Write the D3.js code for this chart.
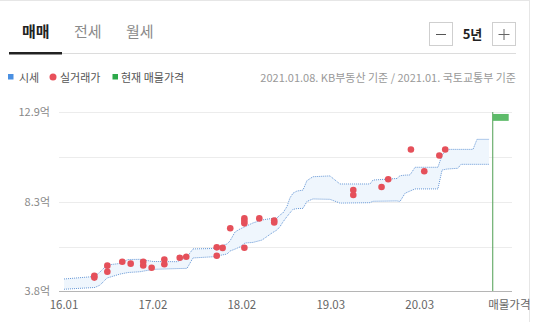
<!DOCTYPE html>
<html>
<head>
<meta charset="utf-8">
<script src="https://cdn.jsdelivr.net/npm/d3@7"></script>
<style>
  html, body { margin: 0; padding: 0; background: #fff; }
  svg { display: block; font-family: "Noto Sans CJK KR", "Noto Sans", sans-serif; }
</style>
</head>
<body>
<svg id="chart" width="535" height="322"></svg>
<script>
// Weekly price band (KB 시세): week index from 2016-01, upper / lower bound in 억
const bandWeeks = [0, 19.5, 22.7, 27.1, 35.3, 40.3, 47.9, 56.1, 71.2, 77.5, 81.2, 93.8, 102.7, 104.5, 107.7, 110.8, 114, 119, 124.7, 131, 134.1, 136, 137.9, 140.4, 142.3, 144.2, 146.7, 150.5, 153, 156.8, 167.5, 173.8, 192.7, 194.6, 209.7, 211.6, 214.8, 217.9, 221.1, 235.5, 238.1, 241.2, 248.1, 250, 257.6, 260.1, 267.7];
const bandUpper = [4.41, 4.54, 4.77, 5.12, 5.20, 5.40, 5.41, 5.30, 5.29, 5.53, 5.94, 5.96, 6.19, 6.34, 6.80, 6.95, 7.07, 7.26, 7.41, 7.49, 7.51, 7.66, 7.77, 8.09, 8.53, 8.77, 8.88, 8.93, 9.41, 9.61, 9.65, 9.24, 9.24, 9.44, 9.52, 9.66, 9.69, 9.70, 10.09, 10.09, 10.71, 11.00, 11.00, 11.00, 11.00, 11.51, 11.51];
const bandLower = [3.89, 3.98, 4.10, 4.46, 4.66, 4.74, 4.78, 4.90, 4.94, 4.95, 5.48, 5.54, 5.68, 5.83, 5.93, 6.04, 6.24, 6.27, 6.39, 6.75, 6.90, 7.07, 7.31, 7.58, 7.77, 7.95, 7.99, 8.00, 8.35, 8.48, 8.46, 8.27, 8.29, 8.36, 8.38, 8.35, 8.77, 8.88, 8.99, 8.99, 9.95, 10.00, 10.04, 10.24, 10.24, 10.24, 10.24];

// Actual transactions (실거래가): week index and price in 억
const dealWeeks = [19.1, 19.1, 27.3, 27.3, 36.7, 42.0, 49.9, 49.9, 55.2, 63.2, 63.2, 72.9, 77.0, 96.2, 96.2, 99.9, 104.7, 113.6, 113.6, 113.6, 113.6, 123.0, 132.4, 132.4, 182.2, 182.2, 200.0, 204.2, 218.5, 226.9, 236.4, 240.1];
const dealPrices = [4.57, 4.48, 5.09, 4.78, 5.29, 5.19, 5.29, 5.10, 4.98, 5.40, 5.16, 5.49, 5.54, 6.02, 5.59, 5.99, 6.99, 7.50, 7.37, 7.24, 6.00, 7.49, 7.38, 7.28, 8.93, 8.68, 9.09, 9.48, 10.99, 9.89, 10.69, 10.99];

// Current listing price range (현재 매물가격)
const listingWeek = 270;
const listingRange = [12.45, 12.8];

// Axis ticks
const xTickWeeks = [0, 56, 112, 168, 224];
const xTickLabels = ["16.01", "17.02", "18.02", "19.03", "20.03"];
const listingLabel = "매물가격";
const yTickValues = [3.8, 6.05, 8.3, 10.6, 12.9];
const yTickLabels = ["3.8억", "", "8.3억", "", "12.9억"];

const tabs = ["매매", "전세", "월세"];
const periodLabel = "5년";
const legendItems = ["시세", "실거래가", "현재 매물가격"];
const sourceNote = "2021.01.08. KB부동산 기준 / 2021.01. 국토교통부 기준";

const svg = d3.select("#chart");

// outer frame (top and right edges)
svg.append("line").attr("x1", 0).attr("x2", 530).attr("y1", 0.5).attr("y2", 0.5).attr("stroke", "#e6e6e6");
svg.append("line").attr("x1", 529.5).attr("x2", 529.5).attr("y1", 0).attr("y2", 322).attr("stroke", "#e6e6e6");

// tabs
const tabX = [22, 74, 126];
tabs.forEach((t, i) => {
  svg.append("text").attr("x", tabX[i]).attr("y", 37)
    .attr("font-size", 15).attr("font-weight", i === 0 ? 700 : 400)
    .attr("fill", i === 0 ? "#222" : "#8a8a8a").text(t);
});
svg.append("line").attr("x1", 62).attr("x2", 516).attr("y1", 53.5).attr("y2", 53.5).attr("stroke", "#dcdcdc");
svg.append("rect").attr("x", 9).attr("y", 52).attr("width", 53).attr("height", 2.5).attr("fill", "#222");

// period stepper
svg.append("rect").attr("x", 429.5).attr("y", 22.5).attr("width", 23).attr("height", 23).attr("fill", "#fff").attr("stroke", "#cfcfcf");
svg.append("line").attr("x1", 436).attr("x2", 446).attr("y1", 34.5).attr("y2", 34.5).attr("stroke", "#555");
svg.append("text").attr("x", 472.5).attr("y", 39).attr("text-anchor", "middle").attr("font-size", 13).attr("font-weight", 700).attr("fill", "#222").text(periodLabel);
svg.append("rect").attr("x", 492.5).attr("y", 22.5).attr("width", 23).attr("height", 23).attr("fill", "#fff").attr("stroke", "#cfcfcf");
svg.append("line").attr("x1", 498.5).attr("x2", 509.5).attr("y1", 34.5).attr("y2", 34.5).attr("stroke", "#666");
svg.append("line").attr("x1", 504).attr("x2", 504).attr("y1", 29).attr("y2", 40).attr("stroke", "#666");

// legend
svg.append("rect").attr("x", 8).attr("y", 74).attr("width", 5.5).attr("height", 5.5).attr("fill", "#4a90e2");
svg.append("text").attr("x", 19).attr("y", 81.5).attr("font-size", 11).attr("fill", "#555").text(legendItems[0]);
svg.append("circle").attr("cx", 53).attr("cy", 77).attr("r", 3.5).attr("fill", "#e8505b");
svg.append("text").attr("x", 60).attr("y", 81.5).attr("font-size", 11).attr("fill", "#555").text(legendItems[1]);
svg.append("rect").attr("x", 112.5).attr("y", 74).attr("width", 5.5).attr("height", 5.5).attr("fill", "#2ca94a");
svg.append("text").attr("x", 121).attr("y", 81.5).attr("font-size", 11).attr("fill", "#555").text(legendItems[2]);
svg.append("text").attr("x", 516).attr("y", 81.5).attr("text-anchor", "end").attr("font-size", 11).attr("fill", "#999").text(sourceNote);

// scales
const x = d3.scaleLinear().domain([0, 270]).range([64, 492.7]);
const y = d3.scaleLinear().domain([3.8, 12.9]).range([291, 112]);
const plotLeft = 59, plotRight = 512;

// gridlines + y labels
const yAxis = svg.append("g");
yTickValues.forEach((v, i) => {
  yAxis.append("line").attr("x1", plotLeft).attr("x2", plotRight)
    .attr("y1", Math.round(y(v)) + 0.5).attr("y2", Math.round(y(v)) + 0.5)
    .attr("stroke", i === 0 ? "#b5b5b5" : "#ececec");
  if (yTickLabels[i]) {
    yAxis.append("text").attr("x", 50).attr("y", y(v) + 4).attr("text-anchor", "end")
      .attr("font-size", 11).attr("fill", "#888").text(yTickLabels[i]);
  }
});

// x labels
const xAxis = svg.append("g");
xTickWeeks.forEach((w, i) => {
  xAxis.append("text").attr("x", x(w)).attr("y", 309).attr("text-anchor", "middle")
    .attr("font-size", 11.5).attr("fill", "#666").text(xTickLabels[i]);
});
xAxis.append("text").attr("x", x(listingWeek) - 4.5).attr("y", 309)
  .attr("font-size", 11.5).attr("fill", "#666").text(listingLabel);

// price band
const band = bandWeeks.map((w, i) => ({ w, hi: bandUpper[i], lo: bandLower[i] }));
svg.append("path").datum(band)
  .attr("d", d3.area().x(d => x(d.w)).y0(d => y(d.lo)).y1(d => y(d.hi)))
  .attr("fill", "#eff6fd");
const edgeStyle = p => p.attr("fill", "none").attr("stroke", "#6597d6").attr("stroke-width", 1).attr("stroke-dasharray", "1,1");
svg.append("path").datum(band).attr("d", d3.line().x(d => x(d.w)).y(d => y(d.hi))).call(edgeStyle);
svg.append("path").datum(band).attr("d", d3.line().x(d => x(d.w)).y(d => y(d.lo))).call(edgeStyle);

// transactions
svg.append("g").selectAll("circle")
  .data(dealWeeks.map((w, i) => ({ w, p: dealPrices[i] })))
  .join("circle")
  .attr("cx", d => x(d.w)).attr("cy", d => y(d.p)).attr("r", 3.3)
  .attr("fill", "#e5505a");

// current listing marker
svg.append("line").attr("x1", x(listingWeek)).attr("x2", x(listingWeek))
  .attr("y1", y(12.9)).attr("y2", y(3.8)).attr("stroke", "#6cae6e").attr("stroke-width", 1.2);
svg.append("rect").attr("x", x(listingWeek)).attr("y", y(listingRange[1]))
  .attr("width", 16).attr("height", y(listingRange[0]) - y(listingRange[1]))
  .attr("fill", "#5dbb69");
</script>
</body>
</html>
